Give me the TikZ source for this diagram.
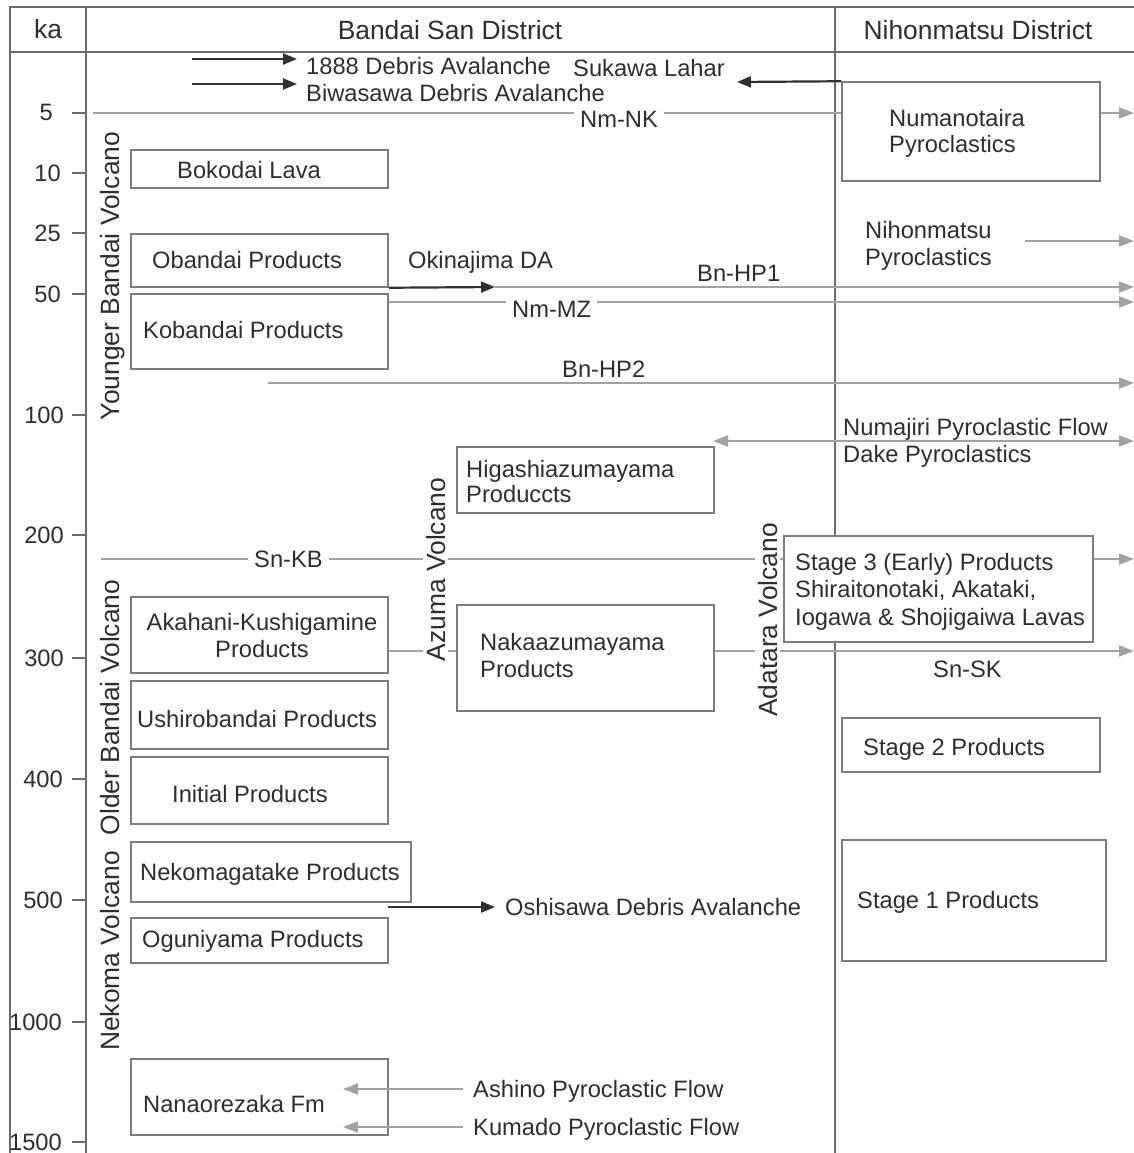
\documentclass[tikz,border=0pt]{standalone}
\usepackage{fontspec}
\setmainfont{Liberation Sans}
\usetikzlibrary{arrows.meta,fit}
\definecolor{ink}{HTML}{2E2E2E}
\definecolor{rule}{HTML}{6A6A6A}
\definecolor{edge}{HTML}{7C7C7C}
\definecolor{flow}{HTML}{A2A2A2}
\definecolor{dark}{HTML}{303030}

\begin{document}
\begin{tikzpicture}[x=1pt,y=-1pt,
  txt/.style={font=\fontsize{23.7}{28}\selectfont, text=ink, inner sep=0pt, anchor=base west},
  big/.style={font=\fontsize{26.4}{31}\selectfont, text=ink, inner sep=0pt},
  frame/.style={draw=rule, line width=1.4pt},
  unitbox/.style={draw=edge, line width=1.5pt, fill=white, inner sep=0pt},
  flowline/.style={draw=flow, line width=2pt},
  flowarrow/.style={flowline, -{Triangle[length=15pt,width=11pt]}},
  darkarrow/.style={draw=dark, line width=2.2pt, -{Triangle[length=14pt,width=11pt]}},
  gap/.style={fill=white, inner xsep=6pt, inner ysep=3pt},
  vgap/.style={fill=white, inner xsep=4pt, inner ysep=3pt},
  vlabel/.style={big, rotate=90, anchor=base},
]
\useasboundingbox (0,0) rectangle (1134,1153);
\fill[white] (0,0) rectangle (1134,1153);

% ---- table frame ----
\coordinate (tl) at (10,7);
\coordinate (tr) at (1134,7);
\coordinate (bl) at (10,1153);
\coordinate (hl) at (10,52);
\coordinate (hr) at (1134,52);
\coordinate (kaT) at (86,7);
\coordinate (kaB) at (86,1153);
\coordinate (distT) at (835,7);
\coordinate (distB) at (835,1153);
\draw[frame] (tr) -- (tl) -- (bl);
\draw[frame] (hl) -- (hr);
\draw[frame] (kaT) -- (kaB);
\draw[frame] (distT) -- (distB);

\node[big, anchor=base] (hka) at (48,38.5) {ka};
\node[big, anchor=base] (hbandai) at (450,40) {Bandai San District};
\node[big, anchor=base] (hnihon) at (978,40) {Nihonmatsu District};

% ---- age axis ----
\foreach \v/\y/\x in {5/113/53, 10/173/61, 25/233/61, 50/294/61, 100/415/64,
                      200/535/64, 300/658/64, 400/779/63, 500/900/63,
                      1000/1022/62, 1500/1142/62}{
  \coordinate (tick\v) at (86,\y);
  \coordinate (tickL\v) at (72,\y);
  \draw[frame] (tickL\v) -- (tick\v);
  \node[txt, anchor=base east] (age\v) at (\x,{\y+8}) {\v};
}

% ---- volcano labels ----
\node[vlabel] (younger) at (119,276) {Younger Bandai Volcano};
\node[vlabel] (older) at (119,707.5) {Older Bandai Volcano};
\node[vlabel] (nekomav) at (119,951) {Nekoma Volcano};

% ---- unit boxes ----
\node[unitbox, fit={(131,150)(388,188)}] (bokodai) {};
\node[unitbox, fit={(131,234)(388,287)}] (obandai) {};
\node[unitbox, fit={(131,294)(388,369)}] (kobandai) {};
\node[unitbox, fit={(457,447)(714,513)}] (higashi) {};
\node[unitbox, fit={(131,597)(388,673)}] (akahani) {};
\node[unitbox, fit={(131,681)(388,749)}] (ushiro) {};
\node[unitbox, fit={(131,757)(388,824)}] (initial) {};
\node[unitbox, fit={(131,842)(411,902)}] (nekoma) {};
\node[unitbox, fit={(131,918)(388,963)}] (oguni) {};
\node[unitbox, fit={(131,1059)(388,1135)}] (nanao) {};
\node[unitbox, fit={(457,605)(714,711)}] (naka) {};
\node[unitbox, fit={(842,82)(1100,181)}] (numa) {};
\node[unitbox, fit={(784,536)(1093,642)}] (stage3) {};
\node[unitbox, fit={(842,718)(1100,772)}] (stage2) {};
\node[unitbox, fit={(842,840)(1106,961)}] (stage1) {};

% ---- flow lines and markers ----
\coordinate (dav1888L) at (192,59);
\coordinate (dav1888R) at (297,59);
\coordinate (biwaL) at (192,84);
\coordinate (biwaR) at (297,84);
\coordinate (sukawaTip) at (737,82);
\coordinate (nmnkL) at (93,113);
\coordinate (nmnkR) at (1134,113);
\coordinate (nihonL) at (1025,241);
\coordinate (nihonR) at (1134,241);
\coordinate (okiTip) at (495,287);
\coordinate (hp1R) at (1134,287);
\coordinate (mzR) at (1134,302);
\coordinate (hp2L) at (268,383);
\coordinate (hp2R) at (1134,383);
\coordinate (numajL) at (713,441);
\coordinate (numajR) at (1134,441);
\coordinate (snkbL) at (101,559);
\coordinate (snkbR) at (1134,559);
\coordinate (snskR) at (1134,651);
\coordinate (oshiL) at (388,907);
\coordinate (oshiTip) at (495,907);
\coordinate (ashinoR) at (463,1089);
\coordinate (ashinoTip) at (343,1089);
\coordinate (kumadoR) at (463,1127);
\coordinate (kumadoTip) at (343,1127);

\draw[darkarrow] (dav1888L) -- (dav1888R);
\draw[darkarrow] (biwaL) -- (biwaR);
\draw[darkarrow] (numa.north west) -- (sukawaTip);

\draw[flowline] (nmnkL) -- (numa.west |- nmnkL);
\draw[flowarrow] (numa.east |- nmnkL) -- (nmnkR);
\draw[flowarrow] (nihonL) -- (nihonR);
\draw[darkarrow] (obandai.south east) -- (okiTip);
\draw[flowarrow] (okiTip) -- (hp1R);
\draw[flowarrow] (kobandai.east |- mzR) -- (mzR);
\draw[flowarrow] (hp2L) -- (hp2R);
\draw[flowline, {Triangle[length=15pt,width=11pt]}-{Triangle[length=15pt,width=11pt]}] (numajL) -- (numajR);
\draw[flowline] (snkbL) -- (stage3.west |- snkbL);
\draw[flowarrow] (stage3.east |- snkbL) -- (snkbR);
\draw[flowline] (akahani.east |- snskR) -- (naka.west |- snskR);
\draw[flowarrow] (naka.east |- snskR) -- (snskR);
\draw[darkarrow] (oshiL) -- (oshiTip);
\draw[flowarrow] (ashinoR) -- (ashinoTip);
\draw[flowarrow] (kumadoR) -- (kumadoTip);

% ---- labels that interrupt the lines ----
\node[txt, gap] (nmnk) at (574,128) {Nm-NK};
\node[txt, gap] (nmmz) at (506,317) {Nm-MZ};
\node[txt, gap] (snkb) at (248,567) {Sn-KB};
\node[vlabel, vgap] (azuma) at (445,569.5) {Azuma Volcano};
\node[vlabel, vgap] (adatara) at (777,620) {Adatara Volcano};

% ---- unit and event names ----
\node[txt] (t1888) at (306,75) {1888 Debris Avalanche};
\node[txt] (tbiwa) at (306,102) {Biwasawa Debris Avalanche};
\node[txt] (tsukawa) at (573,77) {Sukawa Lahar};
\node[txt] (tnuma1) at (889,127) {Numanotaira};
\node[txt] (tnuma2) at (889,153) {Pyroclastics};
\node[txt] (tnihon1) at (865,238) {Nihonmatsu};
\node[txt] (tnihon2) at (865,265) {Pyroclastics};
\node[txt] (tbokodai) at (177,178) {Bokodai Lava};
\node[txt] (tobandai) at (152,268) {Obandai Products};
\node[txt] (toki) at (408,268) {Okinajima DA};
\node[txt] (thp1) at (697,281) {Bn-HP1};
\node[txt] (tkobandai) at (143,338) {Kobandai Products};
\node[txt] (thp2) at (562,377) {Bn-HP2};
\node[txt] (tnumaj) at (843,435) {Numajiri Pyroclastic Flow};
\node[txt] (tdake) at (843,462) {Dake Pyroclastics};
\node[txt] (thiga1) at (466,477) {Higashiazumayama};
\node[txt] (thiga2) at (466,502) {Produccts};
\node[txt] (tst3a) at (795,570) {Stage 3 (Early) Products};
\node[txt] (tst3b) at (795,597) {Shiraitonotaki, Akataki,};
\node[txt] (tst3c) at (795,625) {Iogawa \& Shojigaiwa Lavas};
\node[txt, anchor=base] (takaha1) at (262,630) {Akahani-Kushigamine};
\node[txt, anchor=base] (takaha2) at (262,657) {Products};
\node[txt] (tnaka1) at (480,650) {Nakaazumayama};
\node[txt] (tnaka2) at (480,677) {Products};
\node[txt] (tsnsk) at (933,677) {Sn-SK};
\node[txt] (tushiro) at (137,727) {Ushirobandai Products};
\node[txt] (tst2) at (863,755) {Stage 2 Products};
\node[txt] (tinitial) at (172,802) {Initial Products};
\node[txt] (tnekoma) at (140,880) {Nekomagatake Products};
\node[txt] (tst1) at (857,908) {Stage 1 Products};
\node[txt] (toshi) at (505,915) {Oshisawa Debris Avalanche};
\node[txt] (toguni) at (142,947) {Oguniyama Products};
\node[txt] (tnanao) at (143,1112) {Nanaorezaka Fm};
\node[txt] (tashino) at (473,1097) {Ashino Pyroclastic Flow};
\node[txt] (tkumado) at (473,1135) {Kumado Pyroclastic Flow};
\end{tikzpicture}
\end{document}
